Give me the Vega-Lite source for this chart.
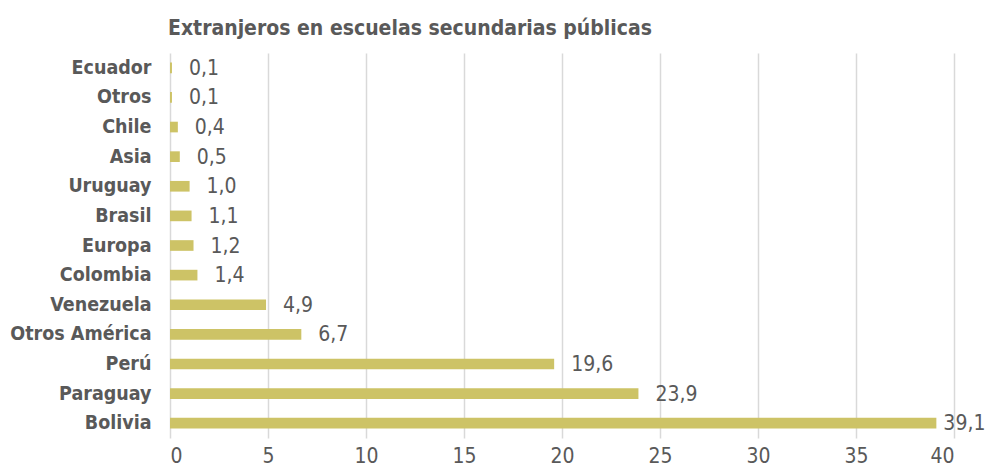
{
  "$schema": "https://vega.github.io/schema/vega-lite/v6.json",
  "width": 784,
  "height": 385,
  "autosize": {"type": "none"},
  "padding": {"left": 170, "top": 53, "right": 38, "bottom": 32},
  "background": "white",
  "title": {
    "text": "Extranjeros en escuelas secundarias públicas",
    "anchor": "start",
    "frame": "group",
    "dx": -2,
    "offset": 14,
    "font": "'DejaVu Sans Condensed', Roboto, sans-serif",
    "fontSize": 21,
    "fontWeight": "bold",
    "color": "#595959"
  },
  "data": {
    "values": [
      {"pais": "Ecuador", "valor": 0.1},
      {"pais": "Otros", "valor": 0.1},
      {"pais": "Chile", "valor": 0.4},
      {"pais": "Asia", "valor": 0.5},
      {"pais": "Uruguay", "valor": 1.0},
      {"pais": "Brasil", "valor": 1.1},
      {"pais": "Europa", "valor": 1.2},
      {"pais": "Colombia", "valor": 1.4},
      {"pais": "Venezuela", "valor": 4.9},
      {"pais": "Otros América", "valor": 6.7},
      {"pais": "Perú", "valor": 19.6},
      {"pais": "Paraguay", "valor": 23.9},
      {"pais": "Bolivia", "valor": 39.1}
    ]
  },
  "encoding": {
    "y": {
      "field": "pais",
      "type": "nominal",
      "sort": null,
      "scale": {"paddingInner": 0.64, "paddingOuter": 0.32},
      "axis": {
        "title": null,
        "ticks": false,
        "domain": false,
        "labelFont": "'DejaVu Sans Condensed', Roboto, sans-serif",
        "labelFontSize": 19.5,
        "labelFontWeight": "bold",
        "labelColor": "#595959",
        "labelPadding": 19
      }
    },
    "x": {
      "field": "valor",
      "type": "quantitative",
      "scale": {"domain": [0, 40], "nice": false},
      "axis": {
        "title": null,
        "values": [0, 5, 10, 15, 20, 25, 30, 35, 40],
        "ticks": false,
        "domain": false,
        "grid": true,
        "gridColor": "#d9d9d9",
        "gridWidth": 1.5,
        "labelFont": "'DejaVu Sans Condensed', Roboto, sans-serif",
        "labelFontSize": 21,
        "labelColor": "#595959",
        "labelPadding": 7
      }
    }
  },
  "layer": [
    {"mark": {"type": "bar", "color": "#cdc366"}},
    {
      "transform": [{"filter": "datum.valor < 39"}],
      "mark": {
        "type": "text",
        "align": "left",
        "baseline": "middle",
        "dx": 17,
        "dy": 1,
        "font": "'DejaVu Sans Condensed', Roboto, sans-serif",
        "fontSize": 21,
        "color": "#595959"
      },
      "encoding": {"text": {"field": "valor", "type": "quantitative", "format": ".1f"}}
    },
    {
      "transform": [{"filter": "datum.valor >= 39"}],
      "mark": {
        "type": "text",
        "align": "left",
        "baseline": "middle",
        "dx": 7,
        "dy": 1,
        "font": "'DejaVu Sans Condensed', Roboto, sans-serif",
        "fontSize": 21,
        "color": "#595959"
      },
      "encoding": {"text": {"field": "valor", "type": "quantitative", "format": ".1f"}}
    }
  ],
  "config": {
    "view": {"stroke": null},
    "locale": {"number": {"decimal": ",", "thousands": ".", "grouping": [3], "currency": ["", " €"]}}
  }
}
